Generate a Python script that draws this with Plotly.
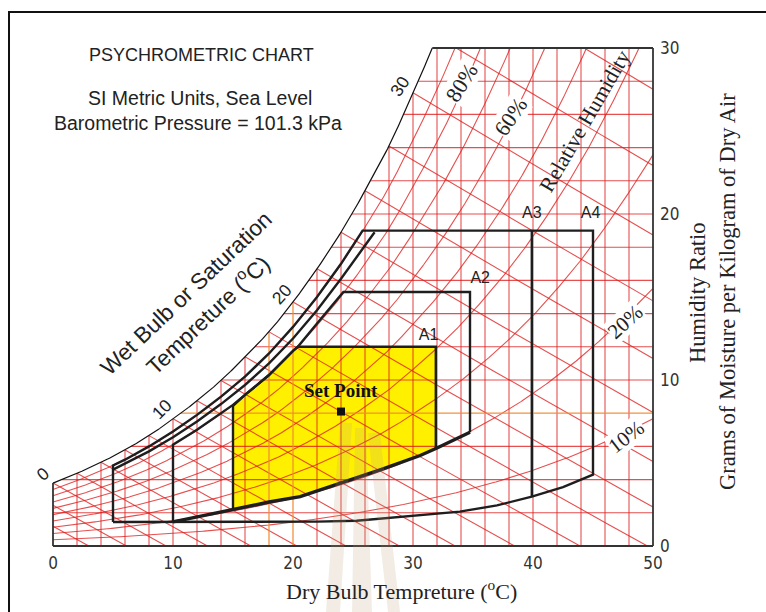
import numpy as np
import plotly.graph_objects as go

# ---------------- data ----------------
# saturation humidity ratio (g/kg dry air) vs dry bulb (degC)
sat_T = [-8, -6, -4, -2, 0, 2, 4, 6, 8, 10, 12, 14, 16, 18, 20, 22, 24, 26, 28, 30,
         32, 34, 36, 38, 40, 42, 44, 46, 48, 50]
sat_W = [2.06, 2.41, 2.80, 3.26, 3.79, 4.38, 5.04, 5.79, 6.65, 7.66, 8.75, 9.97, 11.4,
         12.9, 14.7, 16.7, 18.9, 21.4, 24.1, 27.3, 30.7, 34.5, 38.8, 43.5, 48.8, 54.8,
         61.4, 68.9, 77.2, 86.2]
rh_levels = [10, 20, 30, 40, 50, 60, 70, 80, 90]
wb_levels = [-8, -6, -4, -2, 0, 2, 4, 6, 8, 10, 12, 14, 16, 18, 20, 22, 24, 26, 28, 30, 32, 34]
wb_labels = ["0", "10", "20", "30"]
x_ticks = [0, 10, 20, 30, 40, 50]
y_ticks = [0, 10, 20, 30]
grid_T = list(range(2, 50, 2))
grid_W = list(range(2, 30, 2))
orange_T = [18, 20]
orange_W = [8]

# comfort zone outlines
outer_T = [5, 5, 6, 8, 10, 12, 14, 16, 18, 20, 22, 24, 25.8, 45, 45, 42.5, 39.9, 37, 33.9, 28.9, 25.3, 22, 5]
outer_W = [1.45, 4.85, 5.2, 6.0, 6.9, 7.9, 9.0, 10.2, 11.6, 13.2, 15.0, 17.0, 19.0, 19.0, 4.3, 3.55, 2.97, 2.45, 2.07, 1.77, 1.52, 1.47, 1.45]
inner_T = [5, 6, 8, 10, 12, 14, 16, 18, 20, 22, 24, 26, 26.8]
inner_W = [4.6, 4.95, 5.7, 6.55, 7.5, 8.55, 9.7, 11.0, 12.5, 14.2, 16.1, 18.1, 18.9]
a2_T = [10, 10, 12, 14, 15, 16, 18, 20, 20.4, 22, 24, 24.2, 34.75, 34.75]
a2_W = [1.45, 6.1, 7.0, 8.0, 8.5, 9.1, 10.3, 11.75, 12.0, 13.4, 15.1, 15.3, 15.3, 6.85]
bottom_T = [10, 12, 15, 18, 20.6, 23.9, 27.5, 30.6, 32, 34.75]
bottom_W = [1.45, 1.75, 2.25, 2.65, 2.97, 3.75, 4.65, 5.45, 5.9, 6.85]
a1_T = [15, 15, 16, 18, 20, 20.4, 31.9, 31.9, 30.6, 27.5, 23.9, 20.6, 18, 15]
a1_W = [2.25, 8.45, 9.1, 10.3, 11.75, 12.0, 12.0, 5.9, 5.45, 4.65, 3.75, 2.97, 2.65, 2.25]
a3_T = [39.9, 39.9]
a3_W = [19.0, 2.97]
set_T = [24.0]
set_W = [8.1]
zone_names = ["A1", "A2", "A3", "A4"]
zone_lab_T = [31.3, 35.6, 39.9, 44.8]
zone_lab_W = [12.65, 16.1, 20.0, 20.0]

# ---------------- helpers ----------------
P_ATM = 101.325
TF = np.arange(-8, 50.0001, 0.05)


def ws(t):
    return np.exp(np.interp(t, sat_T, np.log(sat_W)))


WSF = ws(TF)


def rh_w(t, phi):
    s = ws(t)
    ps = s * P_ATM / (622.0 + s)
    return 622.0 * phi * ps / (P_ATM - phi * ps)


def wb_w(t, twb):
    W = ws(twb) / 1000.0
    return 1000.0 * ((2501 - 2.326 * twb) * W - 1.006 * (t - twb)) / (2501 + 1.86 * t - 4.186 * twb)


def join(lines):
    xs, ys = [], []
    for x, y in lines:
        xs += list(x) + [None]
        ys += list(y) + [None]
    return xs, ys


T_top = float(np.interp(30, WSF, TF))

red_lines = []
for t in grid_T:
    if t in orange_T:
        continue
    red_lines.append(([t, t], [0, min(float(ws(t)), 30)]))
for w in grid_W:
    if w in orange_W:
        continue
    td = max(float(np.interp(w, WSF, TF)), 0)
    red_lines.append(([td, 50], [w, w]))
for r in rh_levels:
    phi = r / 100.0
    tt = np.arange(0, 50.0001, 0.1)
    ww = rh_w(tt, phi)
    if ww.max() > 30:
        tc = float(np.interp(30, ww, tt))
        m = tt < tc
        tt = np.append(tt[m], tc)
        ww = np.append(ww[m], 30)
    red_lines.append((tt, ww))
for twb in wb_levels:
    tt = np.linspace(twb, 70, 400)
    ww = wb_w(tt, twb)
    t0 = max(twb, 0)
    if wb_w(t0, twb) > 30:
        t0 = float(np.interp(30, ww[::-1], tt[::-1]))
    t1 = min(50.0, float(np.interp(0, ww[::-1], tt[::-1])))
    if t1 <= t0:
        continue
    seg = np.linspace(t0, t1, 20)
    red_lines.append((seg, wb_w(seg, twb)))

orange_lines = []
for t in orange_T:
    orange_lines.append(([t, t], [0, min(float(ws(t)), 30)]))
for w in orange_W:
    td = max(float(np.interp(w, WSF, TF)), 0)
    orange_lines.append(([td, 50], [w, w]))

sat_t = np.append(np.arange(0, T_top, 0.1), T_top)

fig = go.Figure()

# yellow set-point zone
fig.add_trace(go.Scatter(x=a1_T, y=a1_W, mode="lines", fill="toself",
                         fillcolor="rgb(255,240,0)", line=dict(width=0),
                         hoverinfo="skip", showlegend=False))

rx, ry = join(red_lines)
fig.add_trace(go.Scatter(x=rx, y=ry, mode="lines",
                         line=dict(color="rgba(222,30,30,0.78)", width=1.1),
                         hoverinfo="skip", showlegend=False))
ox, oy = join(orange_lines)
fig.add_trace(go.Scatter(x=ox, y=oy, mode="lines",
                         line=dict(color="rgba(240,140,50,0.95)", width=1.3),
                         hoverinfo="skip", showlegend=False))

# saturation curve and frame
fig.add_trace(go.Scatter(x=sat_t, y=ws(sat_t), mode="lines",
                         line=dict(color="#111", width=1.2), hoverinfo="skip", showlegend=False))
frame_lines = [([0, 0], [0, sat_W[4]]), ([0, 50], [0, 0]), ([50, 50], [0, 30]), ([T_top, 50], [30, 30])]
fx, fy = join(frame_lines)
fig.add_trace(go.Scatter(x=fx, y=fy, mode="lines", line=dict(color="#333", width=1.8),
                         hoverinfo="skip", showlegend=False))

# zone outlines
box_col = "#1e1e1e"
for xs, ys, wd in [(outer_T, outer_W, 2.4), (inner_T, inner_W, 2.4), (a2_T, a2_W, 2.4),
                   (a1_T[:8], a1_W[:8], 2.4), (a3_T, a3_W, 2.4), (bottom_T, bottom_W, 3.4)]:
    fig.add_trace(go.Scatter(x=xs, y=ys, mode="lines", line=dict(color=box_col, width=wd),
                             hoverinfo="skip", showlegend=False))

# set point
fig.add_trace(go.Scatter(x=set_T, y=set_W, mode="markers",
                         marker=dict(symbol="square", size=8, color="#111"),
                         hoverinfo="skip", showlegend=False))
fig.add_trace(go.Scatter(x=zone_lab_T, y=zone_lab_W, mode="text", text=zone_names,
                         textfont=dict(family="Liberation Sans, Arial, sans-serif", size=16, color="#222"),
                         hoverinfo="skip", showlegend=False, cliponaxis=False))

# ---------------- layout ----------------
ML, MT, PW, PH = 47, 43, 612, 508


def pp(px, py):
    return (px - ML) / PW, (MT + PH - py) / PH


SANS = "Liberation Sans, Arial, sans-serif"
SERIF = "Liberation Serif, Times New Roman, serif"
NARROW = "Liberation Sans Narrow, Arial Narrow, DejaVu Sans Condensed, sans-serif"

ann = []


def add_text(text, px, py, size, family, angle=0, color="#222", bg=None):
    x, y = pp(px, py)
    d = dict(text=text, x=x, y=y, xref="paper", yref="paper", showarrow=False,
             textangle=angle, font=dict(size=size, family=family, color=color),
             xanchor="center", yanchor="middle")
    if bg:
        d.update(bgcolor=bg, borderpad=0)
    ann.append(d)


add_text("PSYCHROMETRIC CHART", 201, 55, 18, SANS)
add_text("SI Metric Units, Sea Level", 200, 98, 19.5, SANS)
add_text("Barometric Pressure = 101.3 kPa", 198, 123, 19.5, SANS)
add_text("Wet Bulb or Saturation", 186, 293, 22.5, SANS, angle=-43.5)
add_text("Tempreture (<sup>o</sup>C)", 207, 314, 22.5, SANS, angle=-43.5)
wb_pos = [(43, 474, -40), (162, 409, -45), (282, 294, -48), (400, 86, -57)]
for lab, (px, py, a) in zip(wb_labels, wb_pos):
    add_text(lab, px, py, 17.5, SANS, angle=a)
add_text("Relative Humidity", 585, 121, 21.5, SERIF, angle=-60)
add_text("80%", 462, 83, 22, SERIF, angle=-58, bg="white")
add_text("60%", 511, 117, 22, SERIF, angle=-56, bg="white")
add_text("20%", 625, 322, 21, SERIF, angle=-42, bg="white")
add_text("10%", 626, 437, 21, SERIF, angle=-38, bg="white")
add_text("<b>Set Point</b>", 341, 390, 19, SERIF, color="#111")
add_text("Dry Bulb Tempreture (<sup>o</sup>C)", 401, 590, 22, SERIF)
add_text("Humidity Ratio", 697, 293, 22.5, SERIF, angle=-90)
add_text("Grams of Moisture per Kilogram of Dry Air", 727, 292, 22.5, SERIF, angle=-90)

shapes = []
# outer frame of the picture
x0, y0 = pp(9, 12)
x1, y1 = pp(820, 660)
shapes.append(dict(type="rect", xref="paper", yref="paper", x0=x0, y0=y0, x1=x1, y1=y1,
                   line=dict(color="#111", width=2), fillcolor="rgba(0,0,0,0)", layer="above"))
# faint watermark pillars
pillars = [[(340, 423), (352, 423), (340, 612), (326, 612)],
           [(355, 428), (366, 428), (372, 612), (352, 612)],
           [(368, 433), (380, 433), (400, 612), (388, 612)]]
for poly in pillars:
    pts = [pp(a, b) for a, b in poly]
    path = "M " + " L ".join(f"{a:.4f},{b:.4f}" for a, b in pts) + " Z"
    shapes.append(dict(type="path", xref="paper", yref="paper", path=path,
                       fillcolor="rgba(190,160,120,0.2)", line=dict(width=0), layer="above"))

fig.update_layout(
    width=766, height=612, autosize=False,
    margin=dict(l=ML, r=766 - ML - PW, t=MT, b=612 - MT - PH, pad=0),
    paper_bgcolor="white", plot_bgcolor="white",
    annotations=ann, shapes=shapes,
    xaxis=dict(range=[-0.5, 50.5], tickvals=x_ticks, ticks="", showgrid=False, zeroline=False,
               showline=False, tickfont=dict(family=NARROW, size=17, color="#333"), fixedrange=True),
    yaxis=dict(range=[-0.3, 30.3], tickvals=y_ticks, ticks="", side="right", showgrid=False,
               zeroline=False, showline=False,
               tickfont=dict(family=NARROW, size=17, color="#333"), fixedrange=True),
)

fig.write_html("out.html")
